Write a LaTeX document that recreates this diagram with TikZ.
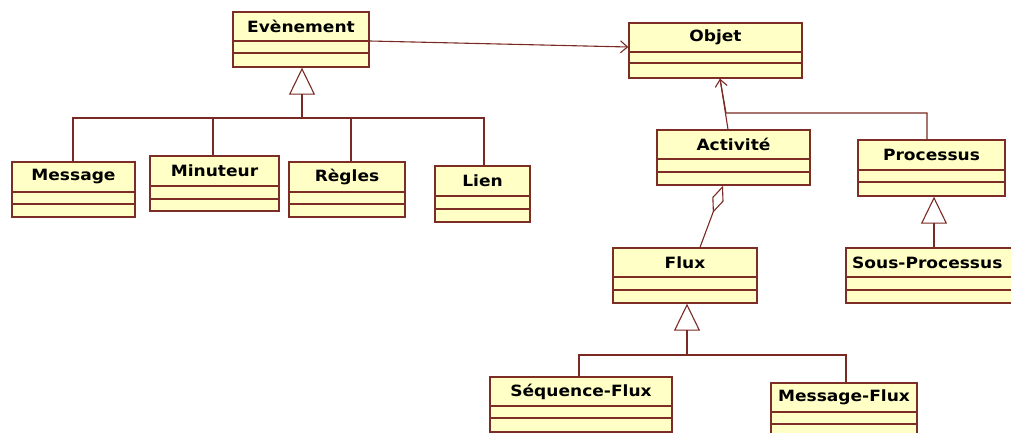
\documentclass[tikz,border=0pt]{standalone}
\usepackage{fontspec}
\setmainfont{DejaVu Sans}
\newfontfamily\umlfont[FakeStretch=1.1]{DejaVu Sans}
\usetikzlibrary{arrows.meta}
\definecolor{clsfill}{HTML}{FFFFC6}
\definecolor{clsline}{HTML}{7B2D26}
\definecolor{conline}{HTML}{7A2A22}
\tikzset{
  cls/.style={draw=clsline, fill=clsfill, line width=1.4pt, inner sep=0pt, rectangle},
  sep/.style={draw=clsline, line width=1.3pt},
  lbl/.style={inner sep=0pt, font=\umlfont\bfseries\fontsize{15.5}{17}\selectfont, text=black},
  con/.style={draw=conline, line width=1.1pt},
  gen/.style={con, -{Triangle[open, length=27pt, width=26pt, line width=1.1pt]}},
  nav/.style={con, -{Straight Barb[length=7pt, width=12pt, line width=1.1pt]}},
  agg/.style={con, {Diamond[open, length=29pt, width=12pt, line width=1.1pt]}-},
}
% name, x1, y1, x2, y2, line1, line2, label
\newcommand\umlclass[8]{%
  \node[cls, minimum width={(#4-#2)*1pt}, minimum height={(#5-#3)*1pt}] (#1) at ({(#2+#4)/2},{(#3+#5)/2}) {};
  \draw[sep] (#2,#6) -- (#4,#6);
  \draw[sep] (#2,#7) -- (#4,#7);
  \node[lbl] (#1-t) at ({(#2+#4)/2},{(#3+#6)/2}) {#8};
}
\begin{document}
\begin{tikzpicture}[x=1pt, y=-1pt]
\useasboundingbox[fill=white] (0,0) rectangle (1011,433);
\clip (0,0) rectangle (1011,433);
% classes
\umlclass{ev}{233}{12}{369}{67}{41}{53}{Evènement}
\umlclass{ob}{629}{23}{802}{78}{52}{63}{Objet}
\umlclass{me}{12}{162}{135}{217}{192}{204}{Message}
\umlclass{mi}{150}{156}{279}{211}{186}{199}{Minuteur}
\umlclass{re}{289}{162}{405}{217}{192}{204}{Règles}
\umlclass{li}{435}{166}{530}{222}{196}{209}{Lien}
\umlclass{ac}{657}{130}{810}{185}{159}{172}{Activité}
\umlclass{pr}{858}{140}{1005}{196}{170}{182}{Processus}
\umlclass{fl}{613}{248}{757}{303}{277}{290}{Flux}
\node[cls, minimum width=184pt, minimum height=55pt] (sp) at (938,275.5) {};
\draw[sep] (846,277) -- (1030,277);
\draw[sep] (846,290) -- (1030,290);
\node[lbl, anchor=west] (sp-t) at (852,263) {Sous-Processus};
\umlclass{sf}{490}{377}{672}{432}{406}{418}{Séquence-Flux}
\umlclass{mf}{771}{383}{917}{438}{412}{424}{Message-Flux}
% junction points
\coordinate (evj) at (302,118);
\coordinate (obj) at (726,113);
\coordinate (flj) at (687,355);
% Evènement -> Objet
\draw[nav] (ev.east |- 0,41) -- (ob.west |- 0,47);
% generalization Evènement
\draw[gen] (evj) -- (ev.south -| evj);
\draw[con] ([xshift=-0.5pt]me.north) |- (evj);
\draw[con] ([xshift=-1.5pt]mi.north) |- (evj);
\draw[con] ([xshift=4pt]re.north) |- (evj);
\draw[con] ([xshift=1.5pt]li.north) |- (evj);
% Activite, Processus -> Objet
\draw[nav] ([xshift=-5.5pt]ac.north) -- ([xshift=4.5pt]ob.south);
\draw[con] ([xshift=-4.5pt]pr.north) |- (obj) -- ([xshift=4.5pt]ob.south);
% aggregation Activite - Flux
\draw[agg] ([xshift=-10.5pt]ac.south) -- ([xshift=15pt]fl.north);
% Processus <- Sous-Processus
\draw[gen] (sp.north -| 934,0) -- (pr.south -| 934,0);
% generalization Flux
\draw[gen] (flj) -- (fl.south -| flj);
\draw[con] ([xshift=-2pt]sf.north) |- (flj);
\draw[con] ([xshift=2pt]mf.north) |- (flj);
\end{tikzpicture}
\end{document}
